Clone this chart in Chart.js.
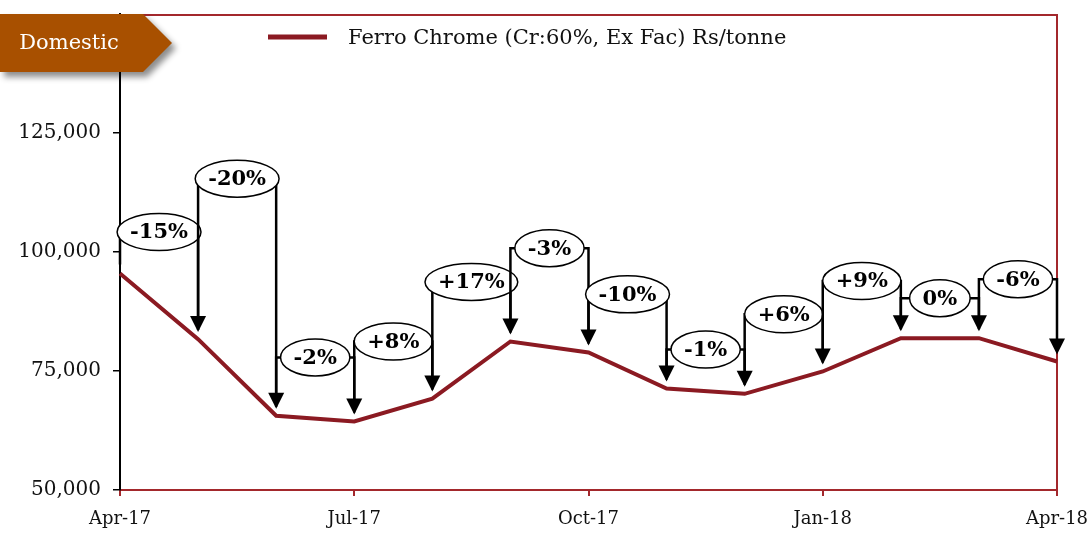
<!DOCTYPE html>
<html><head><meta charset="utf-8">
<script src="https://cdn.jsdelivr.net/npm/chart.js@4/dist/chart.umd.min.js"></script>
<style>html,body{margin:0;padding:0;background:#fff}#wrap{width:1089px;height:533px;position:relative}</style>
</head><body><div id="wrap"><canvas id="c" width="1089" height="533"></canvas></div>
<script>
const categories = ['Apr-17','May-17','Jun-17','Jul-17','Aug-17','Sep-17','Oct-17','Nov-17','Dec-17','Jan-18','Feb-18','Mar-18','Apr-18'];
const prices = [95500, 81700, 65600, 64400, 69200, 81200, 78900, 71300, 70200, 74900, 81900, 81900, 77000];
const changeLabels = ['-15%','-20%','-2%','+8%','+17%','-3%','-10%','-1%','+6%','+9%','0%','-6%'];
const bracketLevels = [104200, 115400, 77850, 81200, 93700, 100800, 91100, 79500, 86900, 93900, 90300, 94300];
const yTicks = [50000, 75000, 100000, 125000, 150000];
const seriesName = 'Ferro Chrome (Cr:60%, Ex Fac) Rs/tonne';
const badgeText = 'Domestic';

const FONT = "'DejaVu Serif', 'Liberation Serif', serif";
const LINE_COLOR = '#8B1A22';
const FRAME_RED = '#A3282C';

const overlay = {
  id: 'overlay',
  beforeDatasetsDraw(chart) {
    const {ctx, chartArea: a} = chart;
    ctx.save();
    ctx.strokeStyle = FRAME_RED;
    ctx.lineWidth = 2;
    ctx.beginPath();
    ctx.moveTo(a.left, a.top + 1);
    ctx.lineTo(a.right, a.top + 1);
    ctx.lineTo(a.right, a.bottom);
    ctx.stroke();
    ctx.restore();
  },
  afterDatasetsDraw(chart) {
    const {ctx} = chart;
    const xs = chart.scales.x, ys = chart.scales.y;
    ctx.save();
    for (let i = 0; i < changeLabels.length; i++) {
      const x0 = xs.getPixelForValue(i), x1 = xs.getPixelForValue(i + 1);
      const yL = ys.getPixelForValue(bracketLevels[i]);
      const p0 = ys.getPixelForValue(prices[i]);
      const p1 = ys.getPixelForValue(prices[i + 1]);
      ctx.strokeStyle = '#000';
      ctx.fillStyle = '#000';
      ctx.lineWidth = 2.5;
      ctx.beginPath();
      ctx.moveTo(x0, p0 - 9);
      ctx.lineTo(x0, yL);
      ctx.lineTo(x1, yL);
      ctx.lineTo(x1, p1 - 20);
      ctx.stroke();
      // arrow head
      const tip = p1 - 7;
      ctx.beginPath();
      ctx.moveTo(x1, tip);
      ctx.lineTo(x1 - 8, tip - 16);
      ctx.lineTo(x1 + 8, tip - 16);
      ctx.closePath();
      ctx.fill();
      // ellipse label
      ctx.font = "bold 21px " + FONT;
      const tw = ctx.measureText(changeLabels[i]).width;
      const cx = (x0 + x1) / 2;
      ctx.beginPath();
      ctx.ellipse(cx, yL, (tw + 26) / 2, 18.5, 0, 0, Math.PI * 2);
      ctx.fillStyle = '#fff';
      ctx.fill();
      ctx.lineWidth = 1.5;
      ctx.stroke();
      ctx.fillStyle = '#000';
      ctx.textAlign = 'center';
      ctx.textBaseline = 'middle';
      ctx.fillText(changeLabels[i], cx, yL + 1);
    }
    ctx.restore();
  },
  afterDraw(chart) {
    const {ctx} = chart;
    ctx.save();
    // legend
    ctx.strokeStyle = LINE_COLOR;
    ctx.lineWidth = 5;
    ctx.beginPath();
    ctx.moveTo(268, 37);
    ctx.lineTo(327, 37);
    ctx.stroke();
    ctx.fillStyle = '#111';
    ctx.font = "21px " + FONT;
    ctx.textAlign = 'left';
    ctx.textBaseline = 'middle';
    ctx.fillText(seriesName, 348, 39);
    // badge
    ctx.save();
    ctx.shadowColor = 'rgba(0,0,0,0.45)';
    ctx.shadowBlur = 6;
    ctx.shadowOffsetX = 4;
    ctx.shadowOffsetY = 5;
    ctx.fillStyle = '#A85000';
    ctx.beginPath();
    ctx.moveTo(0, 14);
    ctx.lineTo(143, 14);
    ctx.lineTo(172, 43);
    ctx.lineTo(143, 72);
    ctx.lineTo(0, 72);
    ctx.closePath();
    ctx.fill();
    ctx.restore();
    ctx.fillStyle = '#fff';
    ctx.font = "21px " + FONT;
    ctx.textAlign = 'center';
    ctx.textBaseline = 'middle';
    ctx.fillText(badgeText, 69, 44);
    ctx.restore();
  }
};

new Chart(document.getElementById('c'), {
  type: 'line',
  data: {
    labels: categories,
    datasets: [{
      label: seriesName,
      data: prices,
      borderColor: LINE_COLOR,
      backgroundColor: LINE_COLOR,
      borderWidth: 4,
      pointRadius: 0,
      tension: 0,
      clip: false
    }]
  },
  options: {
    responsive: false,
    devicePixelRatio: 1,
    animation: false,
    layout: {padding: {top: 14, right: 32, left: 0, bottom: 0}},
    plugins: {legend: {display: false}, tooltip: {enabled: false}},
    scales: {
      x: {
        type: 'category',
        offset: false,
        grid: {
          display: true,
          drawOnChartArea: false,
          drawTicks: true,
          tickLength: 6,
          lineWidth: 2,
          color: (c) => (c.index % 3 === 0 ? FRAME_RED : 'rgba(0,0,0,0)')
        },
        border: {display: true, color: FRAME_RED, width: 2},
        ticks: {
          autoSkip: false,
          maxRotation: 0,
          minRotation: 0,
          padding: 13,
          color: '#111',
          font: {family: FONT, size: 18},
          callback: (v, i) => (i % 3 === 0 ? categories[i] : '')
        },
        afterFit: (s) => { s.height = 43; s.paddingLeft = 0; s.paddingRight = 0; }
      },
      y: {
        min: 50000,
        max: 150000,
        afterBuildTicks: (s) => { s.ticks = yTicks.map(v => ({value: v})); },
        grid: {
          display: true,
          drawOnChartArea: false,
          drawTicks: true,
          tickLength: 7,
          lineWidth: 1.5,
          color: (c) => (c.tick && c.tick.value >= 150000 ? 'rgba(0,0,0,0)' : '#000')
        },
        border: {display: true, color: '#000', width: 2},
        ticks: {
          padding: 12,
          color: '#111',
          font: {family: FONT, size: 20},
          callback: (v) => (v >= 150000 ? '' : Number(v).toLocaleString('en-US'))
        },
        afterFit: (s) => { s.width = 120; s.paddingTop = 0; s.paddingBottom = 0; }
      }
    }
  },
  plugins: [overlay]
});
</script>
</body></html>
